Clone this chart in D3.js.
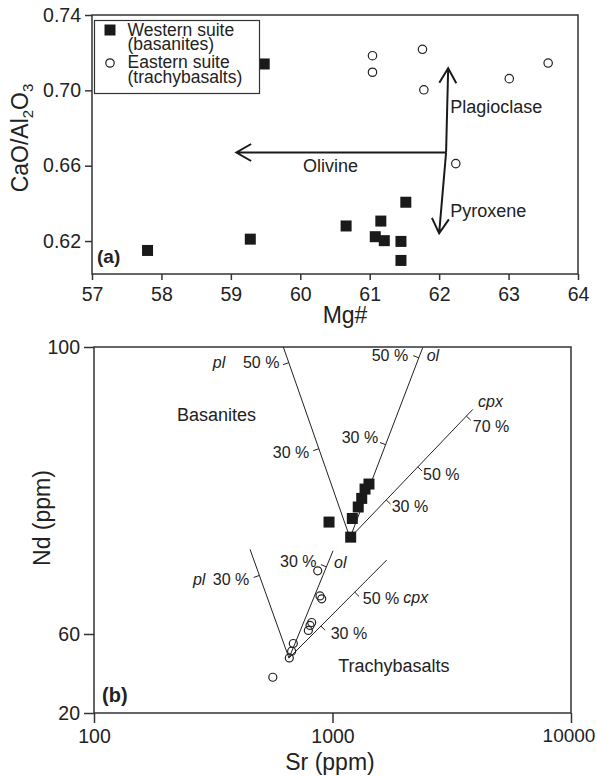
<!DOCTYPE html>
<meta charset="utf-8" />
<script src="https://cdn.jsdelivr.net/npm/d3@7"></script>
<div id="chart"></div>
<script>
  // ---------- panel (a): CaO/Al2O3 vs Mg#
  const westMg = [57.8, 59.28, 59.48, 60.66, 61.52, 61.16, 61.08, 61.21, 61.45, 61.45];
  const westCaAl = [0.615, 0.621, 0.714, 0.628, 0.6406, 0.6306, 0.6223, 0.6202, 0.6198, 0.6097];
  const eastMg = [61.04, 61.04, 61.76, 61.78, 63.01, 63.57, 62.24];
  const eastCaAl = [0.7184, 0.7096, 0.7218, 0.7003, 0.7062, 0.7145, 0.6611];
  const mgTicks = [57, 58, 59, 60, 61, 62, 63, 64];
  const caAlTicks = [0.62, 0.66, 0.7, 0.74];

  // fractionation vectors, all leaving the same origin
  const vecOrigin = [62.1, 0.667];
  const vecNames = ["Olivine", "Plagioclase", "Pyroxene"];
  const vecEndMg = [59.08, 62.13, 62.0];
  const vecEndCaAl = [0.667, 0.7117, 0.6241];
  const vecLabelMg = [60.04, 62.16, 62.16];
  const vecLabelCaAl = [0.6568, 0.688, 0.6329];

  // ---------- panel (b): Nd vs Sr
  const basSr = [967, 1192, 1211, 1282, 1326, 1369, 1422];
  const basNd = [75.6, 73.5, 76.1, 77.7, 78.9, 80.2, 80.9];
  const trachSr = [867, 886, 901, 818, 805, 792, 685, 674, 659, 562];
  const trachNd = [68.8, 65.3, 64.9, 61.6, 61.2, 60.5, 55.2, 51.3, 47.9, 38.1];
  const srTicks = [100, 1000, 10000];
  const ndTicks = [20, 60, 100];

  // crystallisation fans (pl, ol, cpx)
  const basApex = [1184, 73.4];
  const basEndSr = [622, 2388, 3873];
  const basEndNd = [100, 99.9, 91.3];
  const trachApex = [657, 47.8];
  const trachEndSr = [451, 1005, 1687];
  const trachEndNd = [71.8, 71.6, 70.3];
  // percentage marks: [line index, fraction along line, side]
  const basMarks = [[0, 0.918, -1], [0, 0.467, -1], [1, 0.947, -1], [1, 0.49, -1], [2, 0.948, 1], [2, 0.552, 1], [2, 0.295, 1]];
  const trachMarks = [[0, 0.76, -1], [1, 0.85, -1], [2, 0.673, 1], [2, 0.327, 1]];

  const fanLabels = [
    { t: "pl", sr: 315, nd: 97.1, k: "min" },
    { t: "50 %", sr: 421, nd: 97.1, k: "pct" },
    { t: "Basanites", sr: 223, nd: 89.7, k: "grp" },
    { t: "30 %", sr: 562, nd: 84.5, k: "pct" },
    { t: "50 %", sr: 1460, nd: 98.1, k: "pct" },
    { t: "ol", sr: 2483, nd: 98.1, k: "min" },
    { t: "30 %", sr: 1093, nd: 86.6, k: "pct" },
    { t: "cpx", sr: 4074, nd: 91.7, k: "min" },
    { t: "70 %", sr: 3873, nd: 88.2, k: "pct" },
    { t: "50 %", sr: 2396, nd: 81.5, k: "pct" },
    { t: "30 %", sr: 1771, nd: 77.0, k: "pct" },
    { t: "pl", sr: 260, nd: 66.8, k: "min" },
    { t: "30 %", sr: 315, nd: 66.8, k: "pct" },
    { t: "30 %", sr: 603, nd: 69.4, k: "pct" },
    { t: "ol", sr: 1015, nd: 69.2, k: "min" },
    { t: "50 %", sr: 1339, nd: 64.25, k: "pct" },
    { t: "cpx", sr: 1982, nd: 64.3, k: "min" },
    { t: "30 %", sr: 983, nd: 57.7, k: "pct" },
    { t: "Trachybasalts", sr: 1057, nd: 40.9, k: "grp" },
  ];

  const font = "'Liberation Sans', Arial, sans-serif";
  const ink = "#222";

  const svg = d3
    .select("#chart")
    .append("svg")
    .attr("width", 597)
    .attr("height", 776)
    .style("font-family", font);

  // ================= panel (a)
  const xA = d3.scaleLinear().domain([57, 64]).range([92, 578]);
  const yA = d3.scaleLinear().domain([0.6025, 0.74]).range([274, 15]);

  const gA = svg.append("g");

  gA.append("g")
    .attr("transform", `translate(0, ${yA.range()[0]})`)
    .call(d3.axisBottom(xA).tickValues(mgTicks).tickFormat(d3.format("d")).tickSize(6).tickPadding(7).tickSizeOuter(0))
    .call((g) => g.select(".domain").remove());

  gA.append("g")
    .attr("transform", `translate(${xA.range()[0]}, 0)`)
    .call(d3.axisLeft(yA).tickValues(caAlTicks).tickFormat(d3.format(".2f")).tickSize(7).tickPadding(4).tickSizeOuter(0))
    .call((g) => g.select(".domain").remove());

  gA.append("rect")
    .attr("x", xA.range()[0])
    .attr("y", yA.range()[1])
    .attr("width", xA.range()[1] - xA.range()[0])
    .attr("height", yA.range()[0] - yA.range()[1])
    .attr("fill", "none")
    .attr("stroke", "#333")
    .attr("stroke-width", 1.5);

  // points
  gA.selectAll(".west")
    .data(westMg.map((m, i) => [m, westCaAl[i]]))
    .join("rect")
    .attr("x", (d) => xA(d[0]) - 5.5)
    .attr("y", (d) => yA(d[1]) - 5.5)
    .attr("width", 11)
    .attr("height", 11)
    .attr("fill", "#1a1a1a");

  gA.selectAll(".east")
    .data(eastMg.map((m, i) => [m, eastCaAl[i]]))
    .join("circle")
    .attr("cx", (d) => xA(d[0]))
    .attr("cy", (d) => yA(d[1]))
    .attr("r", 4.2)
    .attr("fill", "none")
    .attr("stroke", ink)
    .attr("stroke-width", 1.2);

  // vectors
  function arrow(g, x0, y0, x1, y1) {
    const a = Math.atan2(y1 - y0, x1 - x0);
    const len = 17,
      spread = Math.PI / 6;
    const p1 = [x1 - len * Math.cos(a - spread), y1 - len * Math.sin(a - spread)];
    const p2 = [x1 - len * Math.cos(a + spread), y1 - len * Math.sin(a + spread)];
    g.append("path")
      .attr("d", `M${x0},${y0}L${x1},${y1}M${p1}L${x1},${y1}L${p2}`)
      .attr("fill", "none")
      .attr("stroke", "#1a1a1a")
      .attr("stroke-width", 2);
  }
  vecNames.forEach((name, i) => {
    arrow(gA, xA(vecOrigin[0]), yA(vecOrigin[1]), xA(vecEndMg[i]), yA(vecEndCaAl[i]));
    gA.append("text")
      .attr("x", xA(vecLabelMg[i]))
      .attr("y", yA(vecLabelCaAl[i]))
      .attr("font-size", 18)
      .attr("fill", ink)
      .text(name);
  });

  // legend
  const leg = gA.append("g");
  leg.append("rect")
    .attr("x", 94.5).attr("y", 20.5).attr("width", 165).attr("height", 73)
    .attr("fill", "white").attr("stroke", "#333").attr("stroke-width", 1.2);
  leg.append("rect").attr("x", 104.5).attr("y", 24.5).attr("width", 11).attr("height", 11).attr("fill", "#1a1a1a");
  leg.append("circle").attr("cx", 110).attr("cy", 63).attr("r", 4.2).attr("fill", "none").attr("stroke", ink).attr("stroke-width", 1.2);
  [["Western suite", 35.5], ["(basanites)", 50], ["Eastern suite", 67.5], ["(trachybasalts)", 82.5]].forEach(([t, y]) => {
    leg.append("text").attr("x", 127.5).attr("y", y).attr("font-size", 17.5).attr("fill", ink).text(t);
  });

  gA.append("text")
    .attr("x", 97).attr("y", 263)
    .attr("font-size", 19).attr("font-weight", "bold").attr("fill", ink)
    .text("(a)");

  // axis titles
  gA.append("text")
    .attr("x", 345).attr("y", 323)
    .attr("text-anchor", "middle").attr("font-size", 23).attr("fill", ink)
    .text("Mg#");

  const yTitleA = gA.append("text")
    .attr("transform", "translate(28, 138) rotate(-90)")
    .attr("text-anchor", "middle").attr("font-size", 23).attr("fill", ink);
  yTitleA.append("tspan").text("CaO/Al");
  yTitleA.append("tspan").attr("font-size", 15).attr("dy", 5).text("2");
  yTitleA.append("tspan").attr("dy", -5).text("O");
  yTitleA.append("tspan").attr("font-size", 15).attr("dy", 5).text("3");

  // ================= panel (b)
  const xB = d3.scaleLog().domain([100, 10000]).range([94, 571]);
  const yB = d3.scaleLinear().domain(ndTicks).range([713, 634, 347]);

  const gB = svg.append("g");

  const xAxisB = gB.append("g")
    .attr("transform", `translate(0, 713)`)
    .call(d3.axisBottom(xB).tickValues(srTicks).tickFormat(d3.format("d")).tickSize(10).tickPadding(6).tickSizeOuter(0))
    .call((g) => g.select(".domain").remove());

  gB.append("g")
    .attr("transform", `translate(94, 0)`)
    .call(d3.axisLeft(yB).tickValues(ndTicks).tickSize(10).tickPadding(4).tickSizeOuter(0))
    .call((g) => g.select(".domain").remove());

  gB.append("rect")
    .attr("x", 94).attr("y", 347).attr("width", 571 - 94).attr("height", 713 - 347)
    .attr("fill", "none").attr("stroke", "#333").attr("stroke-width", 1.5);

  function fan(apex, endSr, endNd, marks) {
    const ax = xB(apex[0]),
      ay = yB(apex[1]);
    const ends = endSr.map((s, i) => [xB(s), yB(endNd[i])]);
    ends.forEach((e) => {
      gB.append("line")
        .attr("x1", ax).attr("y1", ay).attr("x2", e[0]).attr("y2", e[1])
        .attr("stroke", ink).attr("stroke-width", 1);
    });
    marks.forEach(([i, t, side]) => {
      const e = ends[i];
      const dx = e[0] - ax,
        dy = e[1] - ay,
        L = Math.hypot(dx, dy);
      const px = ax + t * dx,
        py = ay + t * dy;
      const nx = (-dy / L) * side * 6,
        ny = (dx / L) * side * 6;
      gB.append("line")
        .attr("x1", px).attr("y1", py).attr("x2", px + nx).attr("y2", py + ny)
        .attr("stroke", ink).attr("stroke-width", 1);
    });
  }
  fan(basApex, basEndSr, basEndNd, basMarks);
  fan(trachApex, trachEndSr, trachEndNd, trachMarks);

  gB.selectAll(".bas")
    .data(basSr.map((s, i) => [s, basNd[i]]))
    .join("rect")
    .attr("x", (d) => xB(d[0]) - 5.5)
    .attr("y", (d) => yB(d[1]) - 5.5)
    .attr("width", 11)
    .attr("height", 11)
    .attr("fill", "#1a1a1a");

  gB.selectAll(".trach")
    .data(trachSr.map((s, i) => [s, trachNd[i]]))
    .join("circle")
    .attr("cx", (d) => xB(d[0]))
    .attr("cy", (d) => yB(d[1]))
    .attr("r", 4)
    .attr("fill", "none")
    .attr("stroke", ink)
    .attr("stroke-width", 1.2);

  gB.selectAll(".flab")
    .data(fanLabels)
    .join("text")
    .attr("x", (d) => xB(d.sr))
    .attr("y", (d) => yB(d.nd))
    .attr("font-size", (d) => (d.k === "grp" ? 18 : 16))
    .attr("font-style", (d) => (d.k === "min" ? "italic" : "normal"))
    .attr("fill", ink)
    .text((d) => d.t);

  gB.append("text")
    .attr("x", 102).attr("y", 702)
    .attr("font-size", 20).attr("font-weight", "bold").attr("fill", ink)
    .text("(b)");

  gB.append("text")
    .attr("x", 330).attr("y", 770)
    .attr("text-anchor", "middle").attr("font-size", 23).attr("fill", ink)
    .text("Sr (ppm)");

  gB.append("text")
    .attr("transform", "translate(50, 518) rotate(-90)")
    .attr("text-anchor", "middle").attr("font-size", 23).attr("fill", ink)
    .text("Nd (ppm)");

  // shared tick styling
  svg.selectAll(".tick text").attr("font-size", 19.5).attr("font-family", font).attr("fill", ink);
  svg.selectAll(".tick line").attr("stroke", "#333").attr("stroke-width", 1.5);
  // keep the last Sr label inside the page
  xAxisB.selectAll(".tick text").filter((d) => d === 10000).attr("font-size", 19).attr("dx", -2.5);
</script>
<style>
  body {
    margin: 0;
    background: white;
  }
</style>
